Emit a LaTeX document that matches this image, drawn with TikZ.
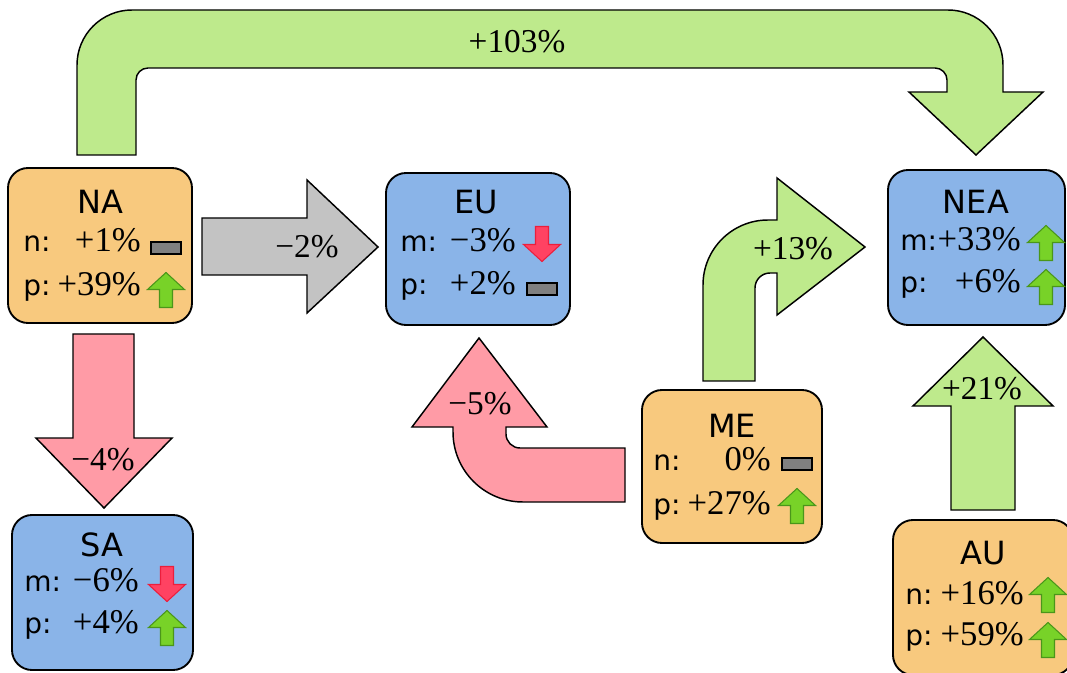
\documentclass[tikz,border=0pt]{standalone}
\usepackage{fontspec}
\newfontfamily\sansfam{DejaVu Sans}
\newfontfamily\numfam{Liberation Serif}
\usetikzlibrary{calc}
\definecolor{boxorange}{RGB}{248,201,126}
\definecolor{boxblue}{RGB}{138,180,232}
\definecolor{flowgreen}{RGB}{190,234,140}
\definecolor{flowpink}{RGB}{255,155,166}
\definecolor{flowgray}{RGB}{195,195,195}
\definecolor{indgreen}{RGB}{120,210,40}
\definecolor{indgreendark}{RGB}{74,150,26}
\definecolor{indred}{RGB}{255,66,98}
\definecolor{indreddark}{RGB}{235,30,60}
\definecolor{indgray}{RGB}{128,128,128}
\tikzset{
  indup/.pic={\path[draw=indgreendark, fill=indgreen, line width=0.8pt, line join=miter]
     (-6.5,-17.5) -- (-6.5,0.5) -- (-18.5,0.5) -- (0,17.5) -- (18.5,0.5) -- (6.5,0.5) -- (6.5,-17.5) -- cycle;},
  inddown/.pic={\path[draw=indreddark, fill=indred, line width=0.8pt, line join=miter]
     (-6.5,17.5) -- (-6.5,-0.5) -- (-18.5,-0.5) -- (0,-17.5) -- (18.5,-0.5) -- (6.5,-0.5) -- (6.5,17.5) -- cycle;},
  indbar/.pic={\path[draw=black, fill=indgray, line width=0.8pt] (-15,-6) rectangle (15,6);}
}
\begin{document}
\begin{tikzpicture}[x=0.75pt,y=0.75pt,
  region/.style={draw=black, line width=1.4pt, rounded corners=15pt, inner sep=0pt},
  orangebox/.style={region, fill=boxorange},
  bluebox/.style={region, fill=boxblue},
  title/.style={font=\sansfam\fontsize{24}{28}\selectfont, inner sep=0pt},
  rowlab/.style={font=\sansfam\fontsize{21}{25}\selectfont, inner sep=0pt, anchor=mid west},
  rowval/.style={font=\numfam\fontsize{26}{28}\selectfont, inner sep=0pt, anchor=mid east},
  flow/.style={draw=black, line width=1.1pt, line join=miter},
  flowlab/.style={font=\numfam\fontsize{25}{26}\selectfont, inner sep=0pt}
]
\useasboundingbox (0,0) rectangle (1067,-673);

% ---- big flow arrows ----
% NA -> NEA (+103%)
\path[flow, fill=flowgreen] (77,-155) -- (77,-65) arc[start angle=180,end angle=90,radius=55]
  -- (948,-10) arc[start angle=90,end angle=0,radius=55]
  -- (1003,-92) -- (1043,-92) -- (976,-155) -- (909,-92) -- (947,-92)
  -- (947,-80) arc[start angle=0,end angle=90,radius=12]
  -- (148,-68) arc[start angle=90,end angle=180,radius=12]
  -- (136,-155) -- cycle;
% NA -> EU (-2%)
\path[flow, fill=flowgray] (202,-218) -- (307,-218) -- (307,-180) -- (378,-247) -- (307,-313) -- (307,-275) -- (202,-275) -- cycle;
% NA -> SA (-4%)
\path[flow, fill=flowpink] (73,-334) -- (134,-334) -- (134,-438) -- (172,-438) -- (104,-508) -- (36,-438) -- (73,-438) -- cycle;
% ME -> EU (-5%)
\path[flow, fill=flowpink] (625,-448) -- (625,-502) -- (523,-502)
  arc[start angle=270,end angle=180,radius=70]
  -- (453,-427) -- (412,-427) -- (479,-338) -- (547,-427) -- (506,-427)
  -- (506,-434) arc[start angle=180,end angle=270,radius=14] -- cycle;
% ME -> NEA (+13%)
\path[flow, fill=flowgreen] (703,-381) -- (703,-285) arc[start angle=180,end angle=90,radius=65]
  -- (777,-220) -- (777,-178) -- (865,-247) -- (777,-315) -- (777,-273) -- (770,-273)
  arc[start angle=90,end angle=180,radius=15] -- (755,-381) -- cycle;
% AU -> NEA (+21%)
\path[flow, fill=flowgreen] (951,-510) -- (951,-406) -- (913,-406) -- (983,-337) -- (1053,-406) -- (1015,-406) -- (1015,-510) -- cycle;

\node[flowlab] (l103) at (517,-42) {+103\%};
\node[flowlab] (l2) at (307,-247) {−2\%};
\node[flowlab] (l4) at (103,-460) {−4\%};
\node[flowlab] (l5) at (480,-404) {−5\%};
\node[flowlab] (l13) at (793,-249) {+13\%};
\node[flowlab] (l21) at (982,-389) {+21\%};

% ---- region boxes ----
\node[orangebox, minimum width=138pt, minimum height=116.25pt] (NA) at (100,-245.5) {};
\node[bluebox, minimum width=138pt, minimum height=114pt] (EU) at (478,-249) {};
\node[bluebox, minimum width=132.75pt, minimum height=116.25pt] (NEA) at (976.5,-247.5) {};
\node[orangebox, minimum width=135pt, minimum height=114.75pt] (ME) at (732,-466.5) {};
\node[bluebox, minimum width=135.75pt, minimum height=116.25pt] (SA) at (102.5,-592.5) {};
\node[orangebox, minimum width=135pt, minimum height=116.25pt] (AU) at (983,-597.5) {};

% NA
\node[title] (NAt) at (100,-202) {NA};
\node[rowlab] (NAa) at (23,-249) {n:};
\node[rowval] (NAb) at (141,-249) {+1\%};
\node[rowlab] (NAc) at (23,-293) {p:};
\node[rowval] (NAd) at (141,-293) {+39\%};
\pic at (166,-248) {indbar};
\pic at (166,-290) {indup};
% EU
\node[title] (EUt) at (476,-202) {EU};
\node[rowlab] (EUa) at (400,-249) {m:};
\node[rowval] (EUb) at (516,-249) {−3\%};
\node[rowlab] (EUc) at (400,-292) {p:};
\node[rowval] (EUd) at (516,-292) {+2\%};
\pic at (542,-244) {inddown};
\pic at (542,-289) {indbar};
% NEA
\node[title] (NEAt) at (976,-202) {NEA};
\node[rowlab] (NEAa) at (900,-248) {m:};
\node[rowval] (NEAb) at (1021,-248) {+33\%};
\node[rowlab] (NEAc) at (900,-290) {p:};
\node[rowval] (NEAd) at (1021,-290) {+6\%};
\pic at (1046,-243) {indup};
\pic at (1046,-287) {indup};
% ME
\node[title] (MEt) at (732,-426) {ME};
\node[rowlab] (MEa) at (653,-468) {n:};
\node[rowval] (MEb) at (771,-468) {0\%};
\node[rowlab] (MEc) at (653,-512) {p:};
\node[rowval] (MEd) at (771,-512) {+27\%};
\pic at (797,-464) {indbar};
\pic at (797,-506) {indup};
% SA
\node[title] (SAt) at (102,-545) {SA};
\node[rowlab] (SAa) at (24,-589) {m:};
\node[rowval] (SAb) at (139,-589) {−6\%};
\node[rowlab] (SAc) at (24,-631) {p:};
\node[rowval] (SAd) at (139,-631) {+4\%};
\pic at (167,-584) {inddown};
\pic at (167,-628) {indup};
% AU
\node[title] (AUt) at (983,-553) {AU};
\node[rowlab] (AUa) at (905,-602) {n:};
\node[rowval] (AUb) at (1024,-602) {+16\%};
\node[rowlab] (AUc) at (905,-643) {p:};
\node[rowval] (AUd) at (1024,-643) {+59\%};
\pic at (1048,-595) {indup};
\pic at (1048,-640) {indup};
\end{tikzpicture}
\end{document}
